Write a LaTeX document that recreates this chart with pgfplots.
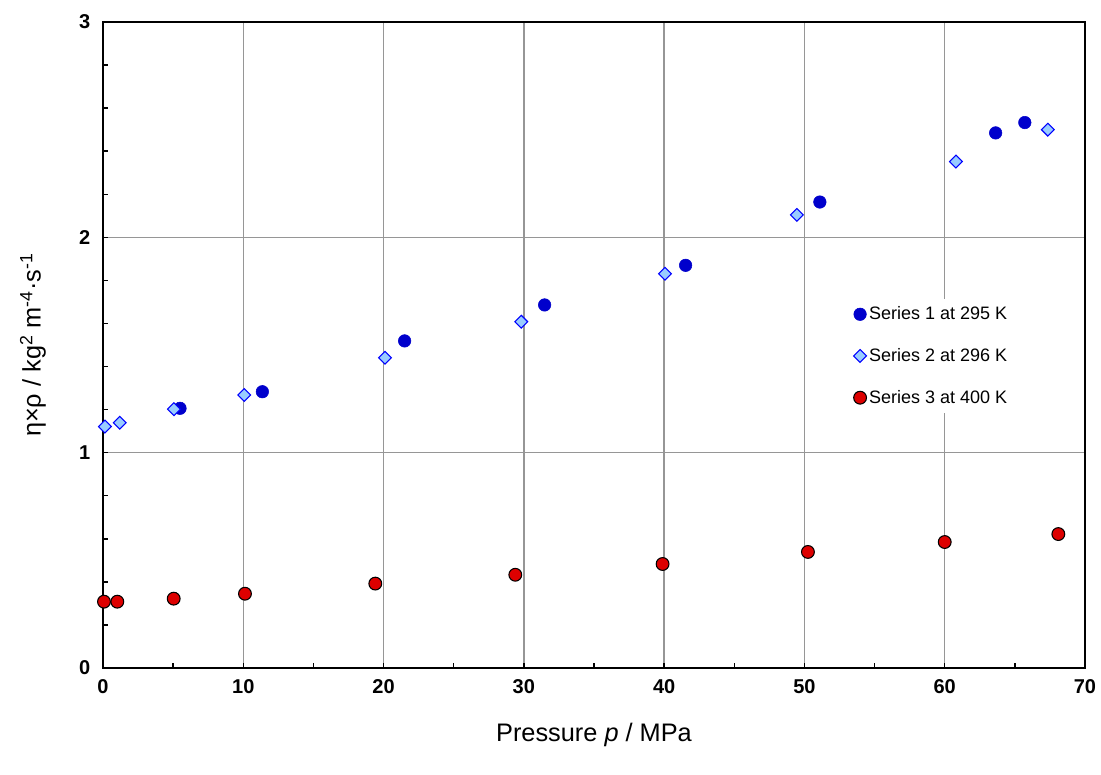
\documentclass[border=0pt]{standalone}
\usepackage{pgfplots}
\pgfplotsset{compat=1.18}
\usepackage{fontspec}
\setmainfont{Liberation Sans}
\definecolor{gridgray}{RGB}{150,150,150}
\definecolor{sblue}{RGB}{0,0,204}
\definecolor{dblue}{RGB}{0,0,255}
\definecolor{dfill}{RGB}{153,204,255}
\definecolor{sred}{RGB}{221,0,0}
\begin{document}
\begin{tikzpicture}
\useasboundingbox (-77.25pt,-80.25pt) rectangle (748.5pt,501pt);
\begin{axis}[
  scale only axis, width=736.5pt, height=484.5pt,
  xmin=0, xmax=70, ymin=0, ymax=3,
  xtick={0,10,...,70}, ytick={0,1,2,3},
  minor x tick num=1, minor y tick num=4,
  xmajorgrids, ymajorgrids,
  major grid style={gridgray, line width=1pt},
  axis line style={black, line width=1.1pt},
  tick align=inside, xtick pos=left, ytick pos=left,
  major tick length=4pt, minor tick length=4pt,
  every tick/.style={black, line width=1.1pt},
  /pgf/number format/assume math mode=true,
  tick label style={font=\fontsize{15}{18}\selectfont\bfseries},
  xticklabel style={yshift=-5pt},
  yticklabel style={xshift=-6pt},
  xlabel={Pressure \textit{p} / MPa},
  ylabel={η×ρ / kg\textsuperscript{2} m\textsuperscript{-4}·s\textsuperscript{-1}},
  label style={font=\fontsize{19}{23}\selectfont},
  xlabel style={at={(axis description cs:0.5,-0.104)}, anchor=center},
  ylabel style={at={(axis description cs:-0.0713,0.5)}, anchor=center},
  legend style={at={(rel axis cs:0.844,0.483)}, anchor=center, draw=none, fill=white,
    font=\fontsize{13.5}{16}\selectfont, row sep=16pt, inner sep=4pt},
  legend cell align=left,
  clip=false,
]
\draw[black, line width=2pt] (rel axis cs:0,1) -- (rel axis cs:0,0) -- (rel axis cs:1,0);
\addplot[only marks, mark=*, mark size=4.7pt, color=sblue] coordinates {
(5.49,1.206) (11.36,1.283) (21.5,1.519) (31.48,1.686) (41.53,1.870)
(51.1,2.164) (63.63,2.485) (65.71,2.533)
};
\addlegendentry{Series 1 at 295 K}
\addplot[only marks, mark=square*, mark size=3.4pt, mark options={rotate=45, draw=dblue, fill=dfill, line width=0.8pt}] coordinates {
(0.14,1.121) (1.19,1.139) (5.06,1.202) (10.07,1.268) (20.1,1.441)
(29.82,1.608) (40.06,1.831) (49.46,2.104) (60.8,2.352) (67.35,2.500)
};
\addlegendentry{Series 2 at 296 K}
\addplot[only marks, mark=*, mark size=4.8pt, mark options={draw=black, fill=sred, line width=0.8pt}] coordinates {
(0.07,0.308) (1.02,0.308) (5.04,0.322) (10.12,0.345) (19.41,0.392)
(29.39,0.433) (39.89,0.483) (50.25,0.539) (60.0,0.585) (68.1,0.622)
};
\addlegendentry{Series 3 at 400 K}
\end{axis}
\end{tikzpicture}
\end{document}
